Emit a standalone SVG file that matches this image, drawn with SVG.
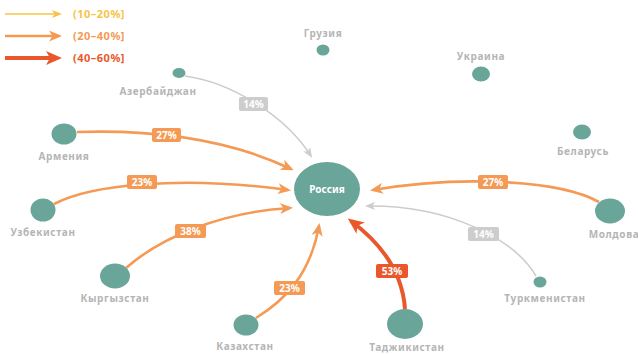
<svg xmlns="http://www.w3.org/2000/svg" width="638" height="354" viewBox="0 0 638 354">
<style>
.node{fill:#6aa59a}
.nl{font-family:"Noto Sans","Open Sans",sans-serif;font-weight:700;font-size:10px;fill:#b5b5b5;text-anchor:middle;letter-spacing:0.6px}
.c{fill:none}
.o{stroke:#f49a55;stroke-width:2.6}
.g{stroke:#cdcdcd;stroke-width:1.6}
.r{stroke:#e9582a;stroke-width:4}
.y{stroke:#f6c445;stroke-width:1.6}
.bo{fill:#f49a55}.bg{fill:#cdcdcd}.br{fill:#e9582a}
.bt{font-family:"Noto Sans","Open Sans",sans-serif;font-weight:700;font-size:10px;fill:#fff;text-anchor:middle}
.lg{font-family:"Noto Sans","Open Sans",sans-serif;font-weight:700;font-size:11px;letter-spacing:0.5px}
</style>
<defs>
<marker id="mo" markerUnits="userSpaceOnUse" viewBox="0 0 13 11" markerWidth="13" markerHeight="11" refX="10" refY="5.5" orient="auto"><path d="M0,0 L13,5.5 L0,11 L3.5,5.5 z" fill="#f49a55"/></marker>
<marker id="mg" markerUnits="userSpaceOnUse" viewBox="0 0 10 8" markerWidth="10" markerHeight="8" refX="8" refY="4" orient="auto"><path d="M0,0 L10,4 L0,8 L2.5,4 z" fill="#cdcdcd"/></marker>
<marker id="mr" markerUnits="userSpaceOnUse" viewBox="0 0 16 14" markerWidth="16" markerHeight="14" refX="12" refY="7" orient="auto"><path d="M0,0 L16,7 L0,14 L4,7 z" fill="#e9582a"/></marker>
<marker id="my" markerUnits="userSpaceOnUse" viewBox="0 0 10 8" markerWidth="10" markerHeight="8" refX="8" refY="4" orient="auto"><path d="M0,0 L10,4 L0,8 L2.5,4 z" fill="#f6c445"/></marker>
</defs>

<g id="legend">
<line class="y" x1="5" y1="14" x2="60" y2="14" marker-end="url(#my)"/>
<text class="lg" x="73" y="18" fill="#f6c445">(10–20%]</text>
<line class="o" x1="5" y1="36" x2="59" y2="36" marker-end="url(#mo)"/>
<text class="lg" x="73" y="40" fill="#f49a55">(20–40%]</text>
<line class="r" x1="5" y1="58" x2="58" y2="58" marker-end="url(#mr)"/>
<text class="lg" x="73" y="62" fill="#e9582a">(40–60%]</text>
</g>

<g id="connectors">
<path class="c g" d="M185,76 C230,82 285,115 311,156" marker-end="url(#mg)"/>
<path class="c o" d="M77,132 C140,130 220,135 291,169" marker-end="url(#mo)"/>
<path class="c o" d="M54,204 C90,185 180,175 288,190" marker-end="url(#mo)"/>
<path class="c o" d="M126,268 C160,238 220,212 290,208" marker-end="url(#mo)"/>
<path class="c o" d="M256,318 C285,300 310,275 319,226" marker-end="url(#mo)"/>
<path class="c r" d="M405,309 C403,280 390,250 351,221" marker-end="url(#mr)"/>
<path class="c o" d="M599,202 C560,180 460,175 373,190" marker-end="url(#mo)"/>
<path class="c g" d="M536,276 C515,240 450,205 367,206" marker-end="url(#mg)"/>

<rect class="bg" x="239" y="97" width="29" height="14" rx="2"/><text class="bt" x="253.5" y="107.5">14%</text>
<rect class="bo" x="152" y="128" width="29" height="14" rx="2"/><text class="bt" x="166.5" y="138.5">27%</text>
<rect class="bo" x="127" y="175" width="30" height="14" rx="2"/><text class="bt" x="142" y="185.5">23%</text>
<rect class="bo" x="175" y="224" width="31" height="14" rx="2"/><text class="bt" x="190.5" y="234.5">38%</text>
<rect class="bo" x="274" y="281" width="31" height="14" rx="2"/><text class="bt" x="289.5" y="291.5">23%</text>
<rect class="br" x="376" y="264" width="32" height="14" rx="2"/><text class="bt" x="392" y="274.5">53%</text>
<rect class="bo" x="478" y="175" width="30" height="14" rx="2"/><text class="bt" x="493" y="185.5">27%</text>
<rect class="bg" x="468" y="227" width="31" height="14" rx="2"/><text class="bt" x="483.5" y="237.5">14%</text>
</g>

<g id="russia"><ellipse class="node" cx="327" cy="189" rx="33" ry="27"/><text class="bt" x="327" y="193">Россия</text></g>
<g id="georgia"><ellipse class="node" cx="323" cy="50" rx="6.5" ry="5.5"/><text class="nl" x="323" y="37">Грузия</text></g>
<g id="ukraine"><ellipse class="node" cx="481" cy="74" rx="9" ry="7.5"/><text class="nl" x="481" y="60">Украина</text></g>
<g id="azerbaijan"><ellipse class="node" cx="179" cy="73" rx="6.5" ry="5"/><text class="nl" x="158" y="95">Азербайджан</text></g>
<g id="belarus"><ellipse class="node" cx="582" cy="132" rx="9" ry="7.5"/><text class="nl" x="583" y="155">Беларусь</text></g>
<g id="armenia"><ellipse class="node" cx="64" cy="134" rx="12.5" ry="10.5"/><text class="nl" x="64" y="160">Армения</text></g>
<g id="uzbekistan"><ellipse class="node" cx="43" cy="210" rx="12.5" ry="11.5"/><text class="nl" x="43" y="236">Узбекистан</text></g>
<g id="kyrgyzstan"><ellipse class="node" cx="115" cy="276" rx="15" ry="12.5"/><text class="nl" x="115" y="302">Кыргызстан</text></g>
<g id="kazakhstan"><ellipse class="node" cx="246" cy="325" rx="12.5" ry="10.5"/><text class="nl" x="245" y="350">Казахстан</text></g>
<g id="tajikistan"><ellipse class="node" cx="405" cy="324" rx="18" ry="15"/><text class="nl" x="407" y="351">Таджикистан</text></g>
<g id="turkmenistan"><ellipse class="node" cx="540" cy="282" rx="6.5" ry="5.5"/><text class="nl" x="545" y="302">Туркменистан</text></g>
<g id="moldova"><ellipse class="node" cx="610" cy="211" rx="15" ry="12.5"/><text class="nl" x="614" y="238">Молдова</text></g>
</svg>
